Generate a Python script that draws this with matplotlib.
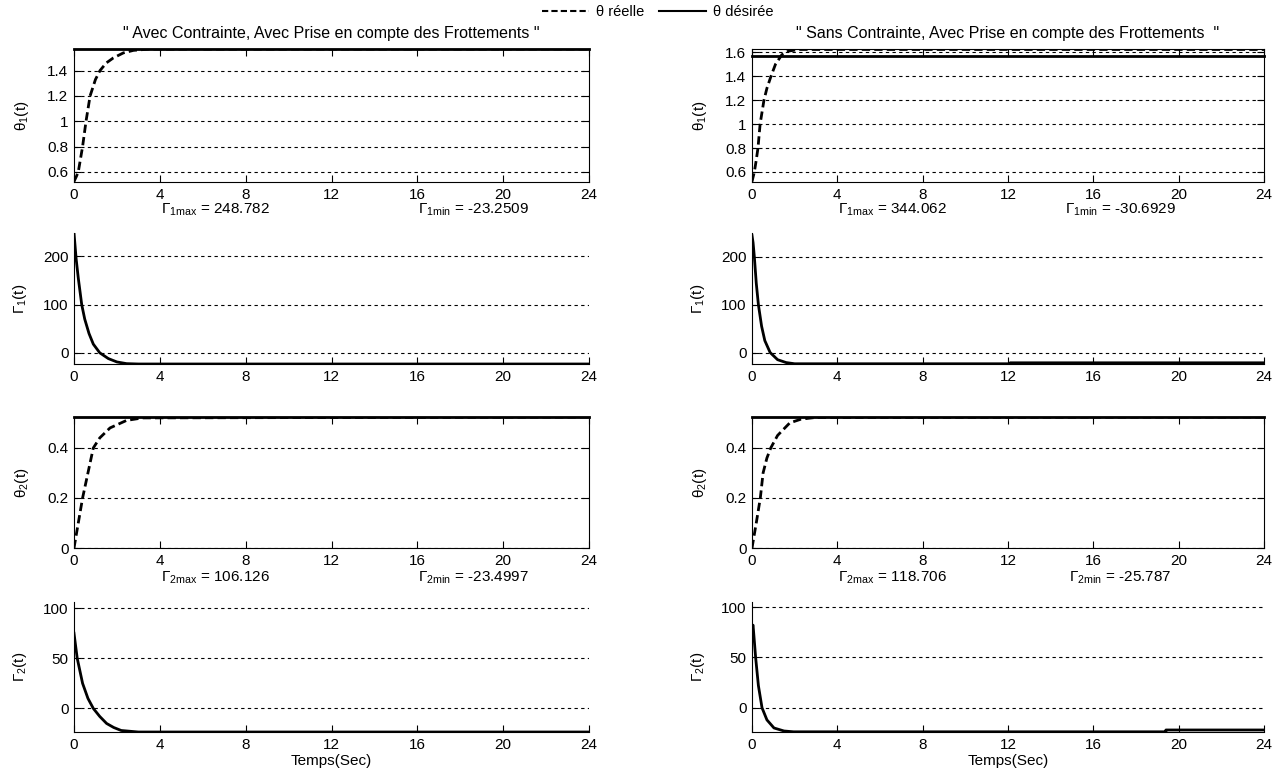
import matplotlib
matplotlib.use('Agg')
import matplotlib.pyplot as plt
from matplotlib.lines import Line2D
from matplotlib.ticker import FormatStrFormatter

plt.rcParams['font.family'] = ['Liberation Sans', 'DejaVu Sans']
plt.rcParams['font.size'] = 11

# ---- left column : avec contrainte ----
t_th1_l = [0, 0.1, 0.2, 0.3, 0.4, 0.56, 0.75, 1.0, 1.21, 1.5, 1.83, 2.3, 2.77, 3.5, 24]
th1_l = [0.524, 0.56, 0.6, 0.7, 0.8, 1.0, 1.2, 1.33, 1.4, 1.46, 1.5, 1.54, 1.56, 1.57, 1.5708]
t_g1_l = [0, 0.1, 0.2, 0.36, 0.5, 0.7, 0.9, 1.2, 1.6, 2.0, 2.45, 3, 24]
g1_l = [248.78, 195, 155, 100, 70, 40, 18, 0, -12, -19, -22.5, -23.25, -23.25]
t_th2_l = [0, 0.2, 0.4, 0.65, 0.9, 1.2, 1.68, 2.45, 3.2, 24]
th2_l = [0, 0.1, 0.2, 0.3, 0.4, 0.44, 0.48, 0.51, 0.52, 0.5236]
t_g2_l = [0, 0.15, 0.4, 0.65, 0.9, 1.2, 1.52, 1.85, 2.2, 3, 24]
g2_l = [75, 50, 25, 10, 0, -8, -15, -19, -22, -23.5, -23.5]

# ---- right column : sans contrainte ----
t_th1_r = [0, 0.11, 0.2, 0.28, 0.38, 0.56, 0.7, 0.89, 1.1, 1.4, 1.7, 2.2, 24]
th1_r = [0.52, 0.6, 0.7, 0.8, 1.0, 1.2, 1.3, 1.4, 1.5, 1.58, 1.61, 1.624, 1.624]
t_g1_r = [0, 0.05, 0.11, 0.2, 0.3, 0.45, 0.6, 0.85, 1.2, 1.6, 2.0, 12.1, 12.1, 24]
g1_r = [245, 230, 200, 145, 100, 55, 25, 0, -15, -21, -23.5, -23.5, -21.5, -21.5]
t_th2_r = [0, 0.2, 0.39, 0.52, 0.7, 0.88, 1.2, 1.77, 2.3, 3, 24]
th2_r = [0, 0.1, 0.2, 0.3, 0.36, 0.4, 0.45, 0.5, 0.515, 0.522, 0.5236]
t_g2_r = [0, 0.05, 0.17, 0.3, 0.47, 0.7, 1.03, 1.5, 1.95, 19.4, 19.4, 24]
g2_r = [80, 82, 50, 22, 0, -12, -20, -23, -23.8, -23.8, -22, -22]

# consignes
t_ref = [0, 24]
th1_d = [1.5708, 1.5708]
th2_d = [0.5236, 0.5236]

titles = ['" Avec Contrainte, Avec Prise en compte des Frottements "',
          '" Sans Contrainte, Avec Prise en compte des Frottements  "']
g1_max = ['248.782', '344.062']
g1_min = ['-23.2509', '-30.6929']
g2_max = ['106.126', '118.706']
g2_min = ['-23.4997', '-25.787']

W, H = 1285, 778
fig = plt.figure(figsize=(W / 100, H / 100), dpi=100)

cols = [(74, 515), (752, 512)]
rows = [(49, 182), (233, 364), (417, 548), (602, 732)]


def make_ax(c, r, box):
    x0, w = cols[c]
    top, bot = rows[r]
    ax = fig.add_axes([x0 / W, 1 - bot / H, w / W, (bot - top) / H])
    ax.set_xlim(0, 24)
    ax.set_xticks(range(0, 25, 4))
    ax.tick_params(direction='in', length=5, width=0.8, labelsize=11, pad=4,
                   top=box, right=box)
    ax.yaxis.grid(True, linestyle=(0, (3, 3)), color='black', linewidth=0.8)
    ax.yaxis.set_major_formatter(FormatStrFormatter('%g'))
    for s in ax.spines.values():
        s.set_linewidth(0.8)
    if not box:
        ax.spines['top'].set_visible(False)
        ax.spines['right'].set_visible(False)
    return ax


data = [
    (t_th1_l, th1_l, t_g1_l, g1_l, t_th2_l, th2_l, t_g2_l, g2_l),
    (t_th1_r, th1_r, t_g1_r, g1_r, t_th2_r, th2_r, t_g2_r, g2_r),
]
th1_lim = [(0.52, 1.5708), (0.516, 1.628)]
th1_ticks = [[0.6, 0.8, 1, 1.2, 1.4], [0.6, 0.8, 1, 1.2, 1.4, 1.6]]
g1_lim = [(-23.2509, 248.782), (-24, 250)]
g2_lim = [(-23.4997, 106.126), (-24, 105)]
lpad = 12

for c in range(2):
    tt1, v1, tg1, vg1, tt2, v2, tg2, vg2 = data[c]
    xmin_txt = 0.775 if c == 0 else 0.72

    # theta 1
    ax = make_ax(c, 0, True)
    ax.plot(t_ref, th1_d, color='black', linewidth=2, clip_on=False)
    ax.plot(tt1, v1, color='black', linestyle='--', linewidth=2, dashes=(3, 1.5))
    ax.set_ylim(*th1_lim[c])
    ax.set_yticks(th1_ticks[c])
    ax.set_ylabel(r'$\mathregular{\theta_1(t)}$', labelpad=lpad)
    ax.set_title(titles[c], fontsize=11.5, pad=8)

    # gamma 1
    ax = make_ax(c, 1, False)
    ax.plot(tg1, vg1, color='black', linewidth=2)
    ax.set_ylim(*g1_lim[c])
    ax.set_yticks([0, 100, 200])
    ax.set_ylabel(r'$\mathregular{\Gamma_1(t)}$', labelpad=lpad - 2)
    ax.text(0.275, 1.175, r'$\mathregular{\Gamma_{1max}}$ = ' + g1_max[c],
            transform=ax.transAxes, ha='center', va='center', fontsize=11)
    ax.text(xmin_txt, 1.175, r'$\mathregular{\Gamma_{1min}}$ = ' + g1_min[c],
            transform=ax.transAxes, ha='center', va='center', fontsize=11)

    # theta 2
    ax = make_ax(c, 2, True)
    ax.plot(t_ref, th2_d, color='black', linewidth=2, clip_on=False)
    ax.plot(tt2, v2, color='black', linestyle='--', linewidth=2, dashes=(3, 1.5))
    ax.set_ylim(0, 0.5236)
    ax.set_yticks([0, 0.2, 0.4])
    ax.set_ylabel(r'$\mathregular{\theta_2(t)}$', labelpad=lpad)

    # gamma 2
    ax = make_ax(c, 3, False)
    ax.plot(tg2, vg2, color='black', linewidth=2)
    ax.set_ylim(*g2_lim[c])
    ax.set_yticks([0, 50, 100])
    ax.set_ylabel(r'$\mathregular{\Gamma_2(t)}$', labelpad=lpad - 2)
    ax.set_xlabel('Temps(Sec)', labelpad=2)
    ax.text(0.275, 1.19, r'$\mathregular{\Gamma_{2max}}$ = ' + g2_max[c],
            transform=ax.transAxes, ha='center', va='center', fontsize=11)
    ax.text(xmin_txt, 1.19, r'$\mathregular{\Gamma_{2min}}$ = ' + g2_min[c],
            transform=ax.transAxes, ha='center', va='center', fontsize=11)

handles = [Line2D([], [], color='black', linestyle='--', linewidth=1.5, dashes=(3, 1.5)),
           Line2D([], [], color='black', linewidth=1.5)]
fig.legend(handles, ['θ réelle', 'θ désirée'], loc='center', bbox_to_anchor=(0.512, 0.985),
           ncol=2, frameon=False, fontsize=10.5, handlelength=3.2, columnspacing=1.0,
           handletextpad=0.5)

fig.savefig('out.png', dpi=100)
